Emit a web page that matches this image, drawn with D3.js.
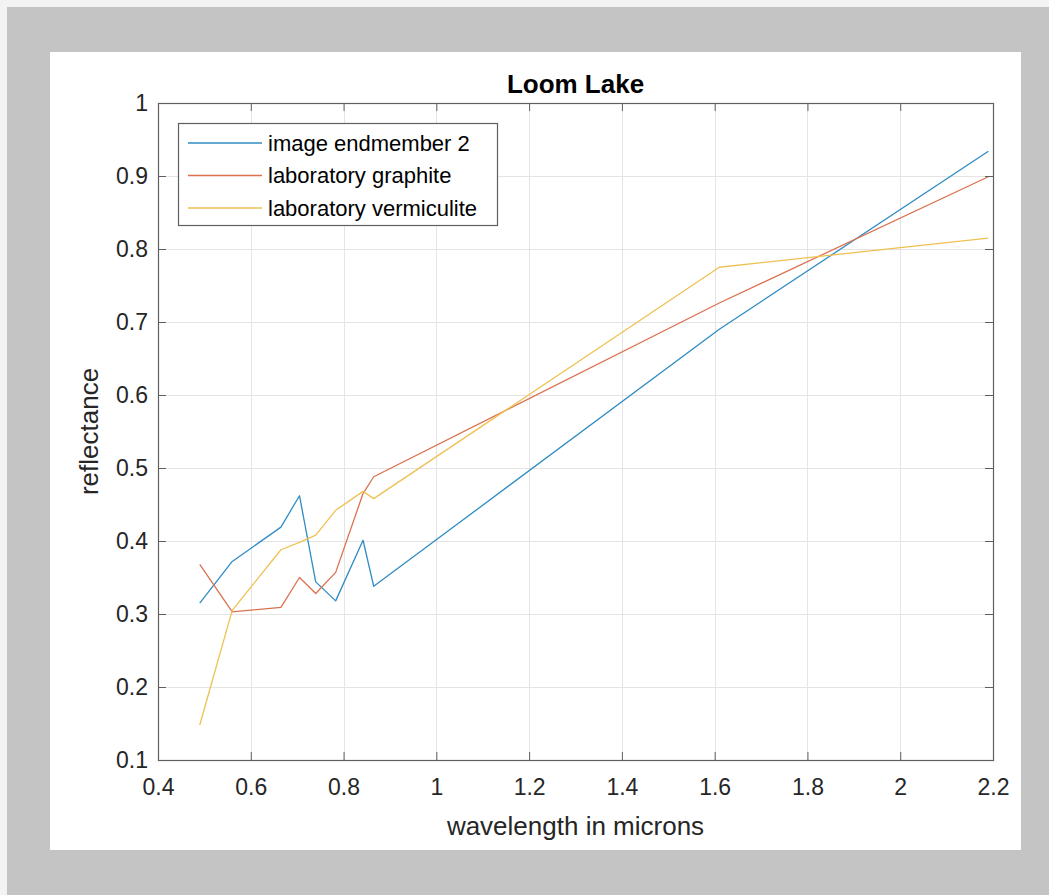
<!DOCTYPE html>
<html>
<head>
<meta charset="utf-8">
<script src="https://cdn.jsdelivr.net/npm/d3@7"></script>
<style>
  body { margin: 0; background: #c4c4c4; }
  svg { display: block; font-family: "Liberation Sans", Arial, Helvetica, sans-serif; }
</style>
</head>
<body>
<script>
// Sentinel-2 band centres (microns)
var wavelengths = [0.49, 0.56, 0.665, 0.705, 0.74, 0.783, 0.842, 0.865, 1.61, 2.19];
var endmember2 = [0.315, 0.372, 0.419, 0.462, 0.344, 0.318, 0.401, 0.338, 0.69, 0.934];
var graphite = [0.368, 0.303, 0.309, 0.350, 0.328, 0.357, 0.465, 0.488, 0.726, 0.899];
var vermiculite = [0.148, 0.305, 0.388, 0.398, 0.408, 0.442, 0.468, 0.458, 0.775, 0.815];

var seriesNames = ["image endmember 2", "laboratory graphite", "laboratory vermiculite"];
var xTicks = [0.4, 0.6, 0.8, 1, 1.2, 1.4, 1.6, 1.8, 2, 2.2];
var yTicks = [0.1, 0.2, 0.3, 0.4, 0.5, 0.6, 0.7, 0.8, 0.9, 1];

var width = 1049,
    height = 895;

var margin = {left: 158, top: 103, right: 993, bottom: 760};
var colors = ["#2f8cc4", "#da7250", "#efc153"];

var svg = d3.select("body")
    .append("svg")
    .attr("width", width)
    .attr("height", height);

// window frame + white figure area
svg.append("rect").attr("width", width).attr("height", height).attr("fill", "#f3f3f3");
svg.append("rect").attr("x", 7).attr("y", 7).attr("width", width - 7).attr("height", height - 7).attr("fill", "#c4c4c4");
svg.append("rect").attr("x", 50).attr("y", 52).attr("width", 971).attr("height", 798).attr("fill", "#ffffff");

var x = d3.scaleLinear().domain([0.4, 2.2]).range([margin.left, margin.right]);
var y = d3.scaleLinear().domain([0.1, 1]).range([margin.bottom, margin.top]);

var plotW = margin.right - margin.left,
    plotH = margin.bottom - margin.top;

// grid
var grid = svg.append("g").attr("class", "grid");
grid.selectAll("line.gx")
    .data(xTicks.slice(1, -1))
    .enter().append("line")
    .attr("x1", function (d) { return Math.round(x(d)) + 0.5; })
    .attr("x2", function (d) { return Math.round(x(d)) + 0.5; })
    .attr("y1", margin.top)
    .attr("y2", margin.bottom)
    .attr("stroke", "#e4e4e4");
grid.selectAll("line.gy")
    .data(yTicks.slice(1, -1))
    .enter().append("line")
    .attr("y1", function (d) { return Math.round(y(d)) + 0.5; })
    .attr("y2", function (d) { return Math.round(y(d)) + 0.5; })
    .attr("x1", margin.left)
    .attr("x2", margin.right)
    .attr("stroke", "#e4e4e4");

// lines
var line = d3.line()
    .x(function (d) { return x(d[0]); })
    .y(function (d) { return y(d[1]); });

var allSeries = [endmember2, graphite, vermiculite];

svg.append("g")
    .selectAll("path")
    .data(allSeries)
    .enter().append("path")
    .attr("d", function (s) {
        return line(s.map(function (v, i) { return [wavelengths[i], v]; }));
    })
    .attr("fill", "none")
    .attr("stroke", function (d, i) { return colors[i]; })
    .attr("stroke-width", 1.3)
    .attr("stroke-linejoin", "round");

// axes (ticks pointing inward, box on)
function styleAxis(g) {
    g.select(".domain").remove();
    g.selectAll(".tick line").attr("stroke", "#5f5f5f");
    g.selectAll(".tick text")
        .attr("fill", "#262626")
        .style("font-size", "23px");
}

svg.append("g")
    .attr("transform", "translate(0," + margin.bottom + ")")
    .call(d3.axisBottom(x).tickValues(xTicks).tickFormat(d3.format("")).tickSize(-8).tickPadding(19))
    .call(styleAxis);

svg.append("g")
    .attr("transform", "translate(" + margin.left + ",0)")
    .call(d3.axisLeft(y).tickValues(yTicks).tickFormat(d3.format("")).tickSize(-8).tickPadding(10))
    .call(styleAxis);

svg.append("g")
    .attr("transform", "translate(0," + margin.top + ")")
    .call(d3.axisTop(x).tickValues(xTicks).tickFormat("").tickSize(-8))
    .call(styleAxis);

svg.append("g")
    .attr("transform", "translate(" + margin.right + ",0)")
    .call(d3.axisRight(y).tickValues(yTicks).tickFormat("").tickSize(-8))
    .call(styleAxis);

svg.append("rect")
    .attr("x", margin.left + 0.5)
    .attr("y", margin.top + 0.5)
    .attr("width", plotW)
    .attr("height", plotH)
    .attr("fill", "none")
    .attr("stroke", "#5f5f5f")
    .attr("stroke-width", 1.2);

// title and labels
svg.append("text")
    .attr("x", (margin.left + margin.right) / 2)
    .attr("y", 93)
    .attr("text-anchor", "middle")
    .attr("font-weight", "bold")
    .style("font-size", "26px")
    .attr("fill", "#000")
    .text("Loom Lake");

svg.append("text")
    .attr("x", (margin.left + margin.right) / 2)
    .attr("y", 835)
    .attr("text-anchor", "middle")
    .style("font-size", "26px")
    .attr("fill", "#262626")
    .text("wavelength in microns");

svg.append("text")
    .attr("transform", "translate(98," + (margin.top + margin.bottom) / 2 + ") rotate(-90)")
    .attr("text-anchor", "middle")
    .style("font-size", "26px")
    .attr("fill", "#262626")
    .text("reflectance");

// legend
var legend = svg.append("g").attr("class", "legend");
legend.append("rect")
    .attr("x", 178.5)
    .attr("y", 123.5)
    .attr("width", 319)
    .attr("height", 102)
    .attr("fill", "#fff")
    .attr("stroke", "#5f5f5f")
    .attr("stroke-width", 1.2);

var rows = legend.selectAll("g.row")
    .data(seriesNames)
    .enter().append("g")
    .attr("transform", function (d, i) { return "translate(0," + (143 + i * 32.5) + ")"; });

rows.append("line")
    .attr("x1", 188)
    .attr("x2", 262)
    .attr("stroke", function (d, i) { return colors[i]; })
    .attr("stroke-width", 1.3);

rows.append("text")
    .attr("x", 268)
    .attr("dy", "0.35em")
    .style("font-size", "22px")
    .attr("fill", "#000")
    .text(function (d) { return d; });
</script>
</body>
</html>
